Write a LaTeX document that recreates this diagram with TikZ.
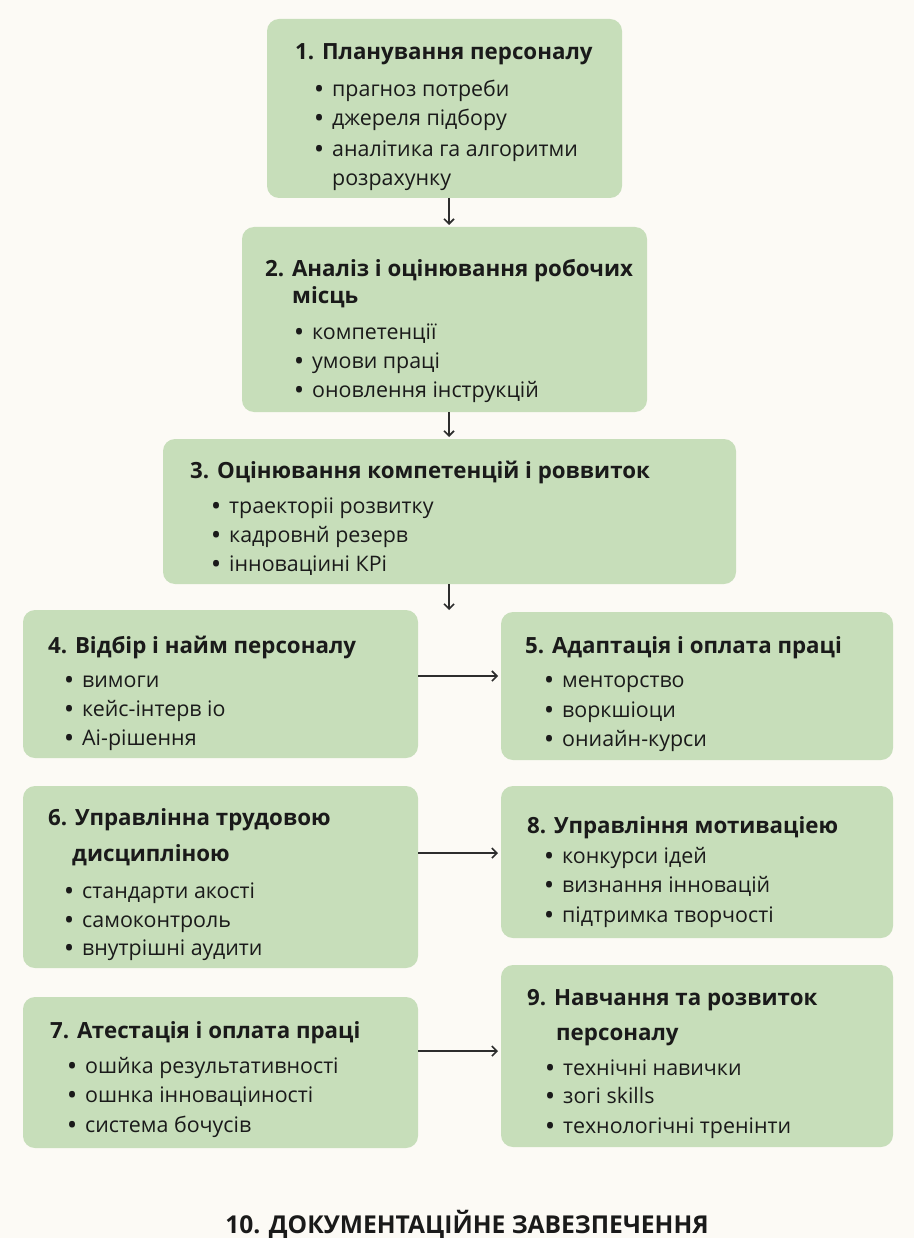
\documentclass[tikz,border=0pt]{standalone}
\usepackage{fontspec}
\setmainfont{Open Sans}
\usetikzlibrary{arrows.meta}
\definecolor{bgcol}{RGB}{252,250,245}
\definecolor{boxcol}{RGB}{199,222,186}
\definecolor{txtcol}{RGB}{26,26,26}
\definecolor{arrcol}{RGB}{45,45,45}
\tikzset{
  box/.style={fill=boxcol, rounded corners=12pt, inner sep=0pt, outer sep=0pt, anchor=north west},
  hdtext/.style={anchor=base west, inner sep=0pt, text=txtcol, font=\fontsize{22.3}{26}\selectfont\bfseries},
  bodytext/.style={anchor=base west, inner sep=0pt, text=txtcol, font=\fontsize{21.4}{25}\selectfont},
  titletext/.style={anchor=base, inner sep=0pt, text=txtcol, font=\fontsize{24.6}{28}\selectfont\bfseries},
  arr/.style={draw=arrcol, line width=1.8pt, -{Straight Barb[length=5pt,width=10pt,line width=1.6pt]}, shorten >=2pt}
}
\newcommand\hdl[4]{\node[hdtext] (#1) at (#2,#3) {#4};}
\newcommand\bitem[4]{\node[bodytext] (#1) at (#2,#3) {\makebox[17pt][l]{\bfseries•}#4};}
\newcommand\cont[4]{\node[bodytext] (#1) at (#2,#3) {#4};}
\begin{document}
\begin{tikzpicture}[x=1pt,y=-1pt]
\fill[bgcol] (0,0) rectangle (914,1238);
\useasboundingbox (0,0) rectangle (914,1238);
% boxes
\node[box, minimum width=355, minimum height=179] (b1) at (267,19) {};
\node[box, minimum width=405, minimum height=185] (b2) at (242,227) {};
\node[box, minimum width=573, minimum height=145] (b3) at (163,439) {};
\node[box, minimum width=395, minimum height=148] (b4) at (23,610) {};
\node[box, minimum width=392, minimum height=148] (b5) at (501,612) {};
\node[box, minimum width=395, minimum height=182] (b6) at (23,786) {};
\node[box, minimum width=392, minimum height=152] (b8) at (501,786) {};
\node[box, minimum width=395, minimum height=151] (b7) at (23,997) {};
\node[box, minimum width=392, minimum height=182] (b9) at (501,965) {};
% box 1
\hdl{h1}{295}{60}{1. Планування персоналу}
\bitem{t1a}{315}{97}{прагноз потреби}
\bitem{t1b}{315}{126}{джереля підбору}
\bitem{t1c}{315}{157}{аналітика га алгоритми}
\cont{t1d}{332}{186}{розрахунку}
% box 2
\hdl{h2}{265}{277}{2. Аналіз і оцінювання робочих}
\hdl{h2b}{292}{303}{місць}
\bitem{t2a}{295}{339}{компетенції}
\bitem{t2b}{295}{368}{умови праці}
\bitem{t2c}{295}{397}{оновлення інструкцій}
% box 3
\hdl{h3}{190}{478}{3. Оцінювання компетенцій і роввиток}
\bitem{t3a}{212}{513}{траекторіі розвитку}
\bitem{t3b}{212}{542}{кадровнй резерв}
\bitem{t3c}{212}{571}{інноваціині КРі}
% box 4
\hdl{h4}{48}{653}{4. Відбір і найм персоналу}
\bitem{t4a}{65}{687}{вимоги}
\bitem{t4b}{65}{716}{кейс-інтерв іо}
\bitem{t4c}{65}{745}{Аі-рішення}
% box 5
\hdl{h5}{525}{653}{5. Адаптація і оплата праці}
\bitem{t5a}{545}{687}{менторство}
\bitem{t5b}{545}{717}{воркшіоци}
\bitem{t5c}{545}{746}{ониайн-курси}
% box 6
\hdl{h6}{48}{825}{6. Управлінна трудовою}
\hdl{h6b}{72}{861}{дисципліною}
\bitem{t6a}{65}{898}{стандарти акості}
\bitem{t6b}{65}{927}{самоконтроль}
\bitem{t6c}{65}{955}{внутрішні аудити}
% box 8
\hdl{h8}{527}{833}{8. Управління мотиваціею}
\bitem{t8a}{545}{863}{конкурси ідей}
\bitem{t8b}{545}{892}{визнання інновацій}
\bitem{t8c}{545}{922}{підтримка творчості}
% box 7
\hdl{h7}{50}{1038}{7. Атестація і оплата праці}
\bitem{t7a}{68}{1073}{ошйка результативності}
\bitem{t7b}{68}{1102}{ошнка інноваціиності}
\bitem{t7c}{68}{1132}{система бочусів}
% box 9
\hdl{h9}{527}{1005}{9. Навчання та розвиток}
\hdl{h9b}{556}{1040}{персоналу}
\bitem{t9a}{546}{1075}{технічні навички}
\bitem{t9b}{546}{1103}{зогі skills}
\bitem{t9c}{546}{1133}{технологічні тренінти}
% title
\node[titletext] (t10) at (467,1233) {10. ДОКУМЕНТАЦІЙНЕ ЗАВЕЗПЕЧЕННЯ};
% arrows
\coordinate (ax) at (449,0);
\coordinate (e3) at (449,610);
\coordinate (r1) at (0,676);
\coordinate (r2) at (0,853);
\coordinate (r3) at (0,1051);
\draw[arr] (b1.south -| ax) -- (b2.north -| ax);
\draw[arr] (b2.south -| ax) -- (b3.north -| ax);
\draw[arr, shorten >=0pt] (b3.south -| ax) -- (e3);
\draw[arr, shorten >=3pt] (b4.east |- r1) -- (b5.west |- r1);
\draw[arr, shorten >=3pt] (b6.east |- r2) -- (b8.west |- r2);
\draw[arr, shorten >=3pt] (b7.east |- r3) -- (b9.west |- r3);
\end{tikzpicture}
\end{document}
